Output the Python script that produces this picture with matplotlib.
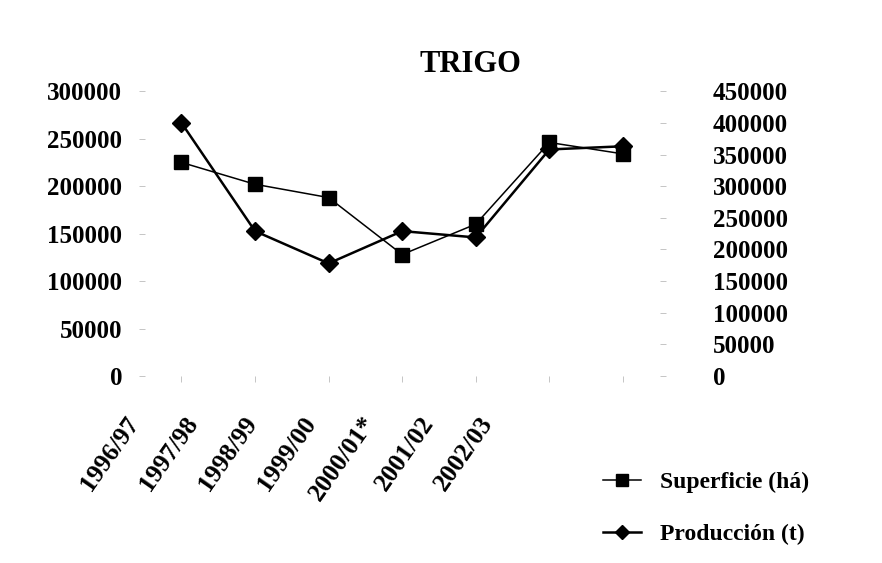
import numpy as np
import matplotlib
matplotlib.use("Agg")
import matplotlib.pyplot as plt
from matplotlib.lines import Line2D

# data
campanas = ["1996/97", "1997/98", "1998/99", "1999/00", "2000/01*", "2001/02", "2002/03"]
superficie = [225000, 202000, 188000, 128000, 160000, 246000, 234000]   # ha, left axis
produccion = [400000, 229000, 178000, 229000, 219000, 358000, 363000]   # t, right axis

izq_ticks = [0, 50000, 100000, 150000, 200000, 250000, 300000]
der_ticks = [0, 50000, 100000, 150000, 200000, 250000, 300000, 350000, 400000, 450000]

plt.rcParams['font.family'] = ['Liberation Serif', 'DejaVu Serif']
plt.rcParams['font.weight'] = 'bold'

fig = plt.figure(figsize=(8.82, 5.63), dpi=100)
ax = fig.add_axes([0.164, 0.332, 0.584, 0.506])
ax2 = ax.twinx()

x = np.arange(len(campanas))
ax.plot(x, superficie, color='black', lw=1.1, marker='s', ms=10,
        label='Superficie (há)')
ax2.plot(x, produccion, color='black', lw=1.8, marker='D', ms=9,
         label='Producción (t)')

ax.set_xlim(-0.5, 6.5)
ax.set_ylim(0, 300000)
ax2.set_ylim(0, 450000)
ax.set_yticks(izq_ticks)
ax.set_yticklabels([str(v) for v in izq_ticks])
ax2.set_yticks(der_ticks)
ax2.set_yticklabels([str(v) for v in der_ticks])
ax.set_xticks(x)
ax.set_xticklabels([])

for a in (ax, ax2):
    for s in a.spines.values():
        s.set_visible(False)
ax.tick_params(axis='y', length=4, width=0.6, color='#bbbbbb', pad=12,
               labelsize=18)
ax2.tick_params(axis='y', length=4, width=0.6, color='#bbbbbb', pad=34,
                labelsize=18)
ax.tick_params(axis='x', length=4, width=0.6, color='#bbbbbb', bottom=True)

# category labels sit on a narrower band than the plotted points
lab = fig.add_axes([0.108, 0.332, 0.468, 0.01])
lab.set_xlim(-0.5, 6.5)
lab.set_xticks(x)
lab.set_xticklabels(campanas, rotation=55, ha='right', va='top',
                    rotation_mode='anchor', fontsize=18.5)
lab.tick_params(axis='x', length=0, pad=26)
lab.set_yticks([])
for s in lab.spines.values():
    s.set_visible(False)
lab.patch.set_alpha(0)

fig.text(0.533, 0.885, 'TRIGO', ha='center', va='center', fontsize=22,
         fontweight='bold')

handles = [Line2D([], [], color='black', lw=1.1, marker='s', ms=8),
           Line2D([], [], color='black', lw=1.8, marker='D', ms=7)]
fig.legend(handles, ['Superficie (há)', 'Producción (t)'],
           loc='upper left', bbox_to_anchor=(0.66, 0.2), frameon=False,
           fontsize=17, handlelength=1.6, labelspacing=1.3)

fig.savefig('out.png', dpi=100)
